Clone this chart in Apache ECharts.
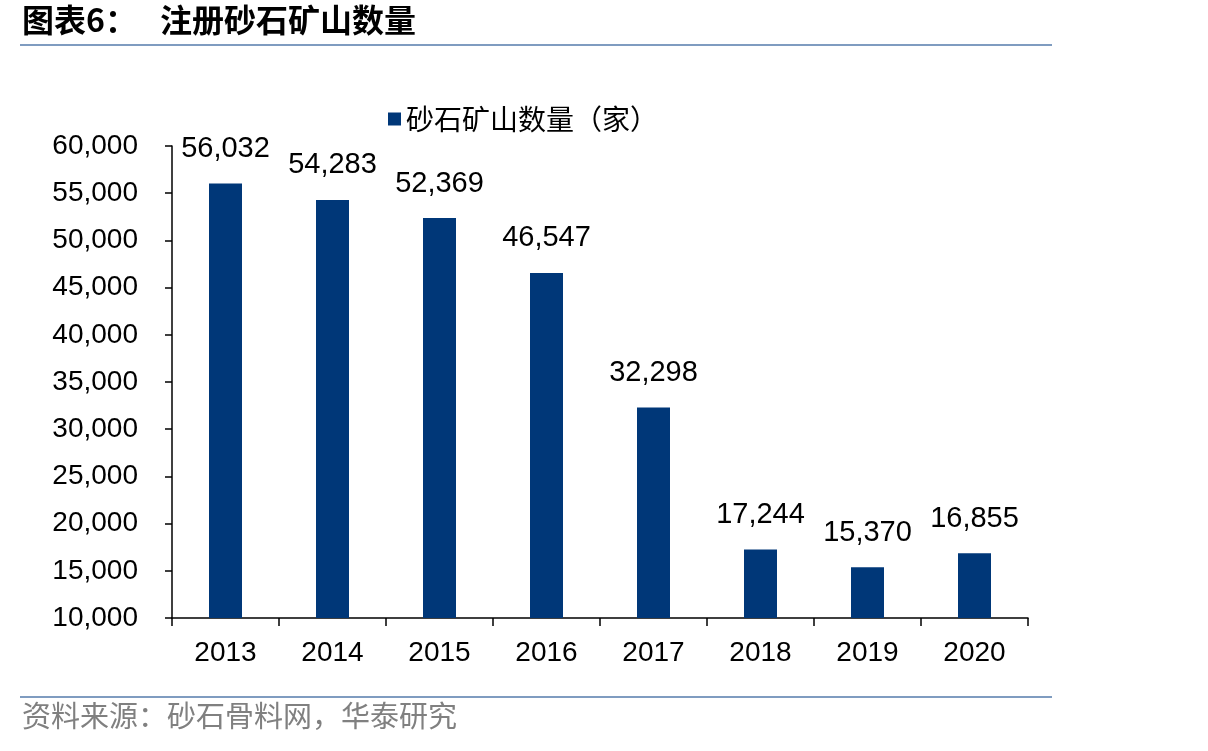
<!DOCTYPE html>
<html><head><meta charset="utf-8">
<script src="https://cdn.jsdelivr.net/npm/echarts@6/dist/echarts.min.js"></script>
<style>
html,body{margin:0;padding:0;background:#fff;}
#c{width:1208px;height:751px;}
</style></head>
<body><div id="c"></div>
<script>
const categories = ['2013','2014','2015','2016','2017','2018','2019','2020'];
const mineCounts = [56032, 54283, 52369, 46547, 32298, 17244, 15370, 16855];
const seriesName = '砂石矿山数量（家）';
const titleLabel = '图表6：';
const titleText = '注册砂石矿山数量';
const sourceText = '资料来源：砂石骨料网，华泰研究';

const chart = echarts.init(document.getElementById('c'));
const cjk = '"Noto Sans CJK SC", sans-serif';
const latin = '"Liberation Sans", Arial, sans-serif';
chart.setOption({
  animation: false,
  backgroundColor: '#fff',
  graphic: [
    {type:'text', left: 22, top: 4, style:{text: titleLabel, font: 'bold 32px ' + cjk, fill:'#000'}},
    {type:'text', left: 160, top: 4, style:{text: titleText, font: 'bold 32px ' + cjk, fill:'#000'}},
    {type:'line', shape:{x1:20, y1:45, x2:1052, y2:45}, style:{stroke:'#7f9cc0', lineWidth:2}},
    {type:'line', shape:{x1:20, y1:697, x2:1052, y2:697}, style:{stroke:'#7f9cc0', lineWidth:2}},
    {type:'text', left: 22, top: 701, style:{text: sourceText, font: '29px ' + cjk, fill:'#808080'}}
  ],
  legend: {
    top: 100, left: 383,
    itemWidth: 13, itemHeight: 13, itemGap: 9,
    icon: 'rect',
    textStyle: {fontFamily: cjk, fontSize: 28, color: '#000'},
    data: [seriesName]
  },
  grid: {left: 172, right: 180, top: 146, bottom: 133, containLabel: false},
  xAxis: {
    type: 'category',
    data: categories,
    axisLine: {lineStyle: {color: '#000', width: 1.5}},
    axisTick: {show: true, alignWithLabel: false, length: 8, lineStyle:{color:'#000', width:1.5}},
    axisLabel: {fontFamily: latin, fontSize: 28, color: '#000', margin: 21}
  },
  yAxis: {
    type: 'value',
    min: 10000, max: 60000, interval: 5000,
    splitLine: {show: false},
    axisLine: {show: true, lineStyle: {color: '#000', width: 1.5}},
    axisTick: {show: true, length: 7, lineStyle:{color:'#000', width:1.5}},
    axisLabel: {fontFamily: latin, fontSize: 28, color: '#000', margin: 34,
      formatter: v => v.toLocaleString('en-US')}
  },
  series: [{
    name: seriesName,
    type: 'bar',
    data: mineCounts,
    barWidth: 33,
    itemStyle: {color: '#003778'},
    label: {
      show: true, position: 'top', distance: 20,
      fontFamily: latin, fontSize: 29, color: '#000',
      formatter: p => p.value.toLocaleString('en-US')
    }
  }]
});
</script></body></html>
